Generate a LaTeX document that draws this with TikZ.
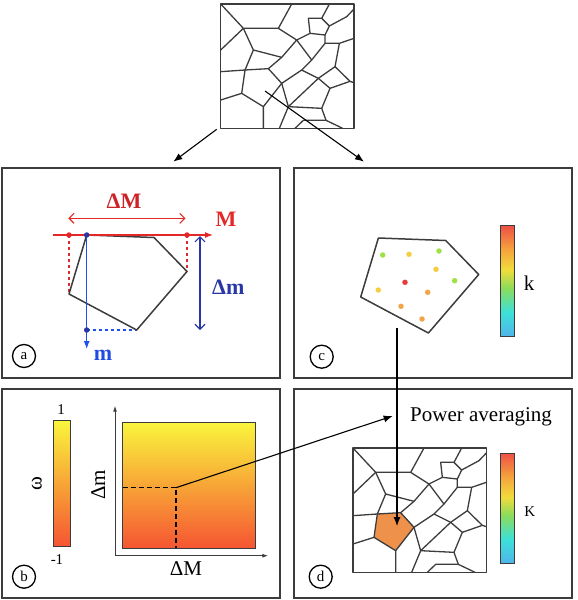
\documentclass[tikz,border=0pt]{standalone}
\usepackage{fontspec}
\setmainfont{Liberation Serif}
\usetikzlibrary{arrows.meta}

\definecolor{edgegray}{RGB}{60,60,60}
\definecolor{axisred}{RGB}{228,40,40}
\definecolor{labelred}{RGB}{205,35,38}
\definecolor{axisblue}{RGB}{30,80,240}
\definecolor{labelblue}{RGB}{40,55,165}
\definecolor{cellorange}{RGB}{238,145,75}
\definecolor{wyellow}{RGB}{250,245,60}
\definecolor{wred}{RGB}{245,85,50}
\definecolor{kred}{RGB}{240,80,70}
\definecolor{korange}{RGB}{245,165,60}
\definecolor{kyellow}{RGB}{240,220,60}
\definecolor{kgreen}{RGB}{140,220,90}
\definecolor{kcyan}{RGB}{60,225,215}
\definecolor{kblue}{RGB}{80,180,235}
\definecolor{seedgreen}{RGB}{160,225,70}
\definecolor{seedyellow}{RGB}{245,205,65}
\definecolor{seedorange}{RGB}{242,165,70}
\definecolor{seedred}{RGB}{232,60,60}

\pgfdeclareverticalshading{rainbow}{100bp}{color(0bp)=(kblue); color(25bp)=(kblue);
  color(36bp)=(kcyan); color(47bp)=(kgreen); color(55bp)=(kyellow);
  color(64bp)=(korange); color(75bp)=(kred); color(100bp)=(kred)}

% the grain mesh, in a 400 x 373 box
\newcommand*{\meshedges}{%
	\draw[cell] (0,0) rectangle (400,373);
	\draw[cell] (0,0) -- (68,73) -- (173,73) -- (213,0);
	\draw[cell] (0,138) -- (68,73);
	\draw[cell] (68,73) -- (98,138) -- (183,160) -- (228,108) -- (173,73);
	\draw[cell] (228,108) -- (268,88) -- (263,43) -- (303,43) -- (326,0);
	\draw[cell] (303,43) -- (326,66) -- (378,38) -- (400,15);
	\draw[cell] (326,66) -- (313,93) -- (268,88);
	\draw[cell] (313,93) -- (313,118) -- (356,118) -- (400,103);
	\draw[cell] (228,108) -- (273,168) -- (313,118);
	\draw[cell] (98,138) -- (73,198) -- (0,203);
	\draw[cell] (73,198) -- (143,194) -- (183,160);
	\draw[cell] (73,198) -- (63,268) -- (0,288);
	\draw[cell] (63,268) -- (128,308) -- (128,373);
	\draw[cell] (128,308) -- (183,238) -- (143,194);
	\draw[cell] (183,238) -- (243,198) -- (273,168);
	\draw[cell] (243,198) -- (293,223) -- (343,188) -- (356,118);
	\draw[cell] (343,188) -- (388,232) -- (400,236);
	\draw[cell] (293,223) -- (328,253) -- (388,232);
	\draw[cell] (183,238) -- (203,308) -- (176,373);
	\draw[cell] (203,308) -- (293,223);
	\draw[cell] (203,308) -- (303,313) -- (328,253);
	\draw[cell] (303,313) -- (316,349) -- (366,373);
	\draw[cell] (316,349) -- (248,349) -- (223,373);
}

\begin{document}
\begin{tikzpicture}
[
	x=1pt,y=-1pt,
	panel/.style={draw=edgegray,line width=1.4pt},
	cell/.style={draw=edgegray,line width=1.3pt,line join=round},
	grain/.style={draw=edgegray,line width=1.5pt,line join=round},
	lettertag/.style={circle,draw,line width=1.3pt,inner sep=0pt,minimum size=23pt,font=\fontsize{15}{15}\selectfont},
	boldlabel/.style={font=\fontsize{22}{22}\selectfont\bfseries},
	biglabel/.style={font=\fontsize{21}{21}\selectfont},
	smalllabel/.style={font=\fontsize{15}{15}\selectfont},
	seed/.style={circle,fill,inner sep=0pt,minimum size=5.5pt},
	pointer/.style={-{Latex[length=9pt,width=7pt]},line width=1.1pt},
	barb/.style={{Straight Barb[length=5pt,width=10pt]}-{Straight Barb[length=5pt,width=10pt]},line width=1.1pt},
	axis/.style={-{Latex[length=6pt,width=4pt]},draw=edgegray,line width=1pt}
]
	\useasboundingbox (0,0) rectangle (578,600);

	% mesh on top
	\begin{scope}[shift={(220.7,4)},scale=1/3]
		\meshedges
	\end{scope}

	% panels
	\draw[panel] (2,168) rectangle (280,378);
	\draw[panel] (294,168) rectangle (572,378);
	\draw[panel] (2,389) rectangle (280,598);
	\draw[panel] (294,389) rectangle (572,598);

	\coordinate (meshcorner) at (216.7,129.3);
	\coordinate (meshinner) at (265,91);
	\coordinate (atop) at (173.3,161.7);
	\coordinate (ctop) at (364,161.7);
	\draw[pointer] (meshcorner) -- (atop);
	\draw[pointer] (meshinner) -- (ctop);

	% panel a
	\coordinate (P1) at (86.7,235);
	\coordinate (P2) at (154,237.5);
	\coordinate (P3) at (187,271.5);
	\coordinate (P4) at (136.7,330);
	\coordinate (P5) at (69,294);
	\draw[draw=axisred,dashed,line width=1.2pt] (P5 |- P1) -- (P5);
	\draw[draw=axisred,dashed,line width=1.2pt] (P3 |- P1) -- (P3);
	\draw[draw=axisblue,dashed,line width=1.2pt] (P1 |- P4) -- (P4);
	\draw[grain] (P1) -- (P2) -- (P3) -- (P4) -- (P5) -- cycle;
	\draw[axisred,-{Latex[length=8pt,width=6pt]},line width=1.1pt] (52.7,235) -- (213,235);
	\draw[axisblue,-{Latex[length=8pt,width=6pt]},line width=1.1pt] (P1) -- (86.7,349);
	\node[seed,axisred] (Mlo) at (P5 |- P1) {};
	\node[seed,axisred] (Mhi) at (P3 |- P1) {};
	\node[seed,labelblue] (mlo) at (P1) {};
	\node[seed,labelblue] (mhi) at (P1 |- P4) {};
	\draw[barb,axisred] (68.3,218.3) -- (185.5,218.3);
	\draw[barb,labelblue] (200,236) -- (200,330);
	\node[boldlabel,text=labelred] (lblDM) at (124,201) {ΔM};
	\node[boldlabel,text=axisred] (lblM) at (226,219) {M};
	\node[boldlabel,text=labelblue] (lblDm) at (228.3,287.5) {Δm};
	\node[boldlabel,text=axisblue!80!labelblue] (lblm) at (103,355) {m};
	\node[lettertag] (taga) at (24,356) {a};

	% panel c
	\draw[grain] (378.4,238) -- (445.7,240.5) -- (478.7,274.5) -- (428.4,333) -- (360.7,297) -- cycle;
	\node[seed,seedgreen] (s1) at (382.7,255) {};
	\node[seed,seedyellow] (s2) at (409,254.3) {};
	\node[seed,seedgreen] (s3) at (439,251) {};
	\node[seed,seedyellow] (s4) at (436,269.3) {};
	\node[seed,seedgreen] (s5) at (454.7,280.7) {};
	\node[seed,seedred] (s6) at (405,282.3) {};
	\node[seed,seedyellow] (s7) at (378.3,290) {};
	\node[seed,seedorange] (s8) at (427.7,292.3) {};
	\node[seed,seedorange] (s9) at (401,306.3) {};
	\node[seed,seedorange] (s10) at (422,319) {};
	\shade[shading=rainbow,draw=edgegray,line width=0.8pt] (500.7,225.7) rectangle (514,336.7);
	\node[biglabel] (lblk) at (529,283) {k};
	\node[lettertag] (tagc) at (321.7,356.7) {c};

	% panel b
	\shade[top color=wyellow,bottom color=wred,draw=edgegray,line width=0.8pt] (53.3,420.7) rectangle (70,546);
	\node[smalllabel] (wtop) at (61,410) {1};
	\node[smalllabel] (wbot) at (57,560) {-1};
	\node[biglabel,rotate=90] (lblw) at (36.7,483.3) {ω};
	\draw[axis] (115,555.7) -- (115,405.7);
	\draw[axis] (115,555.7) -- (268.3,555.7);
	\shade[top color=wyellow,bottom color=wred,draw=edgegray,line width=0.8pt] (122.7,422.3) rectangle (255,548.3);
	\coordinate (pick) at (176,487.7);
	\draw[dash pattern=on 5pt off 3pt,line width=1.5pt] (122.7,487.7) -- (pick) -- (176,548.3);
	\node[biglabel,rotate=90] (lblbDm) at (98.3,485) {Δm};
	\node[biglabel] (lblbDM) at (186,568.3) {ΔM};
	\node[lettertag] (tagb) at (24,576.7) {b};

	% panel d
	\begin{scope}[shift={(353,448)},scale=1/3]
		\fill[cellorange] (73,198) -- (143,194) -- (183,238) -- (128,308) -- (63,268) -- cycle;
		\meshedges
	\end{scope}
	\shade[shading=rainbow,draw=edgegray,line width=0.8pt] (500.7,453.3) rectangle (514,563.3);
	\node[smalllabel] (lblK) at (529.7,511.7) {K};
	\node[biglabel,anchor=base west] (power) at (406.7,421) {Power averaging};
	\node[lettertag] (tagd) at (320.7,576.7) {d};

	\coordinate (powertip) at (392.7,416);
	\coordinate (cfoot) at (397,327.7);
	\coordinate (celltip) at (397,526);
	\draw[pointer] (pick) -- (powertip);
	\draw[pointer] (cfoot) -- (celltip);

\end{tikzpicture}
\end{document}
